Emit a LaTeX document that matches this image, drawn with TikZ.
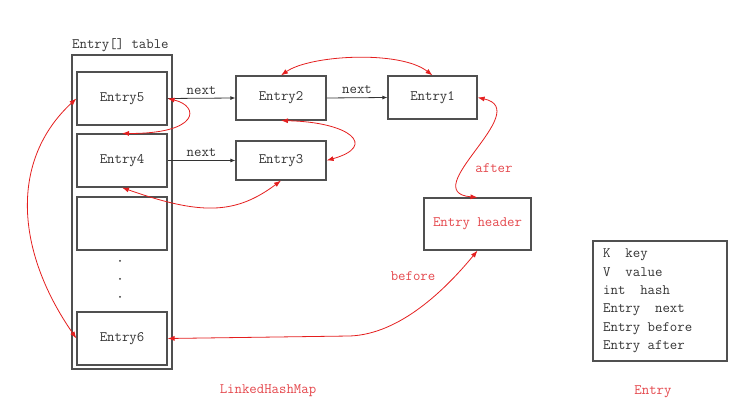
\documentclass[tikz,border=0pt]{standalone}
\usepackage{fontspec}
\usepackage{tikz}
\usetikzlibrary{arrows.meta}

\definecolor{boxgray}{HTML}{505050}
\definecolor{textgray}{HTML}{333333}
\definecolor{linkred}{HTML}{E41E1E}
\definecolor{labelred}{HTML}{E4474C}

\begin{document}
\begin{tikzpicture}[x=1pt, y=-1pt, >=latex, font=\fontsize{14.4}{18.4}\selectfont\ttfamily]
\tikzstyle{block} = [rectangle, draw=boxgray, line width=1.2pt, text=textgray, inner sep=0pt]
\tikzstyle{link} = [{Latex[length=7pt,width=5pt]}-{Latex[length=7pt,width=5pt]}, draw=linkred, line width=0.8pt]
\tikzstyle{nextarrow} = [-{Latex[length=5pt,width=4pt]}, draw=textgray, line width=0.8pt]
\tikzstyle{redlabel} = [text=labelred]

\useasboundingbox (0,0) rectangle (745,411);

% table with its slots
\node[block, minimum width=100pt, minimum height=314pt] (table) at (122,212) {};
\node[anchor=base west, inner sep=0pt, text=textgray] (tablelabel) at (72,49) {Entry[] table};
\node[block, minimum width=90pt, minimum height=53pt] (entry5) at (122,98.5) {Entry5};
\node[block, minimum width=90pt, minimum height=53pt] (entry4) at (122,160.5) {Entry4};
\node[block, minimum width=90pt, minimum height=53pt] (slot) at (122,223.5) {};
\node[block, minimum width=90pt, minimum height=53pt] (entry6) at (122,338.5) {Entry6};
\foreach \y in {261,279,297}
  \fill[textgray] (120,\y) circle (1pt);

% chained entries
\node[block, minimum width=90pt, minimum height=44pt] (entry2) at (281,98) {Entry2};
\node[block, minimum width=90pt, minimum height=39pt] (entry3) at (281,160.5) {Entry3};
\node[block, minimum width=89pt, minimum height=43pt] (entry1) at (432.5,97.5) {Entry1};
\node[block, redlabel, minimum width=107pt, minimum height=52pt] (header) at (477.5,224) {Entry header};

\draw[nextarrow] (entry5.east) -- node[above, text=textgray] {next} (entry2.west);
\draw[nextarrow] (entry4.east) -- node[above, text=textgray] {next} (entry3.west);
\draw[nextarrow] (entry2.east) -- node[above, text=textgray] {next} (entry1.west);

% before / after links
\draw[link] (entry5.east) .. controls (200,106) and (200,134) .. (entry4.north);
\draw[link] (entry2.south) .. controls (350,122) and (378,146) .. (entry3.east);
\draw[link] (entry4.south) .. controls (200,215) and (235,215) .. (entry3.south);
\draw[link] (entry2.north) .. controls (310,55) and (400,50) .. (entry1.north);
\draw[link] (entry1.east) .. controls (535,110) and (415,192) .. (header.north);
\draw[link] (header.south) .. controls (445,290) and (400,334) .. (350,336) -- (entry6.east);
\draw[link] (entry5.west) .. controls (10,160) and (15,250) .. (entry6.west);

\node[redlabel] (after) at (494,168) {after};
\node[redlabel] (before) at (413,276) {before};

% Entry structure
\node[block, minimum width=134pt, minimum height=120pt] (entrybox) at (660,301) {};
\node[anchor=west, inner sep=0pt, align=left, text=textgray] (fields) at (603,301)
  {K~~key\\V~~value\\int~~hash\\Entry~~next\\Entry~before\\Entry~after};

\node[redlabel] (maplabel) at (268,391) {LinkedHashMap};
\node[redlabel] (entrylabel) at (653,392) {Entry};
\end{tikzpicture}
\end{document}
